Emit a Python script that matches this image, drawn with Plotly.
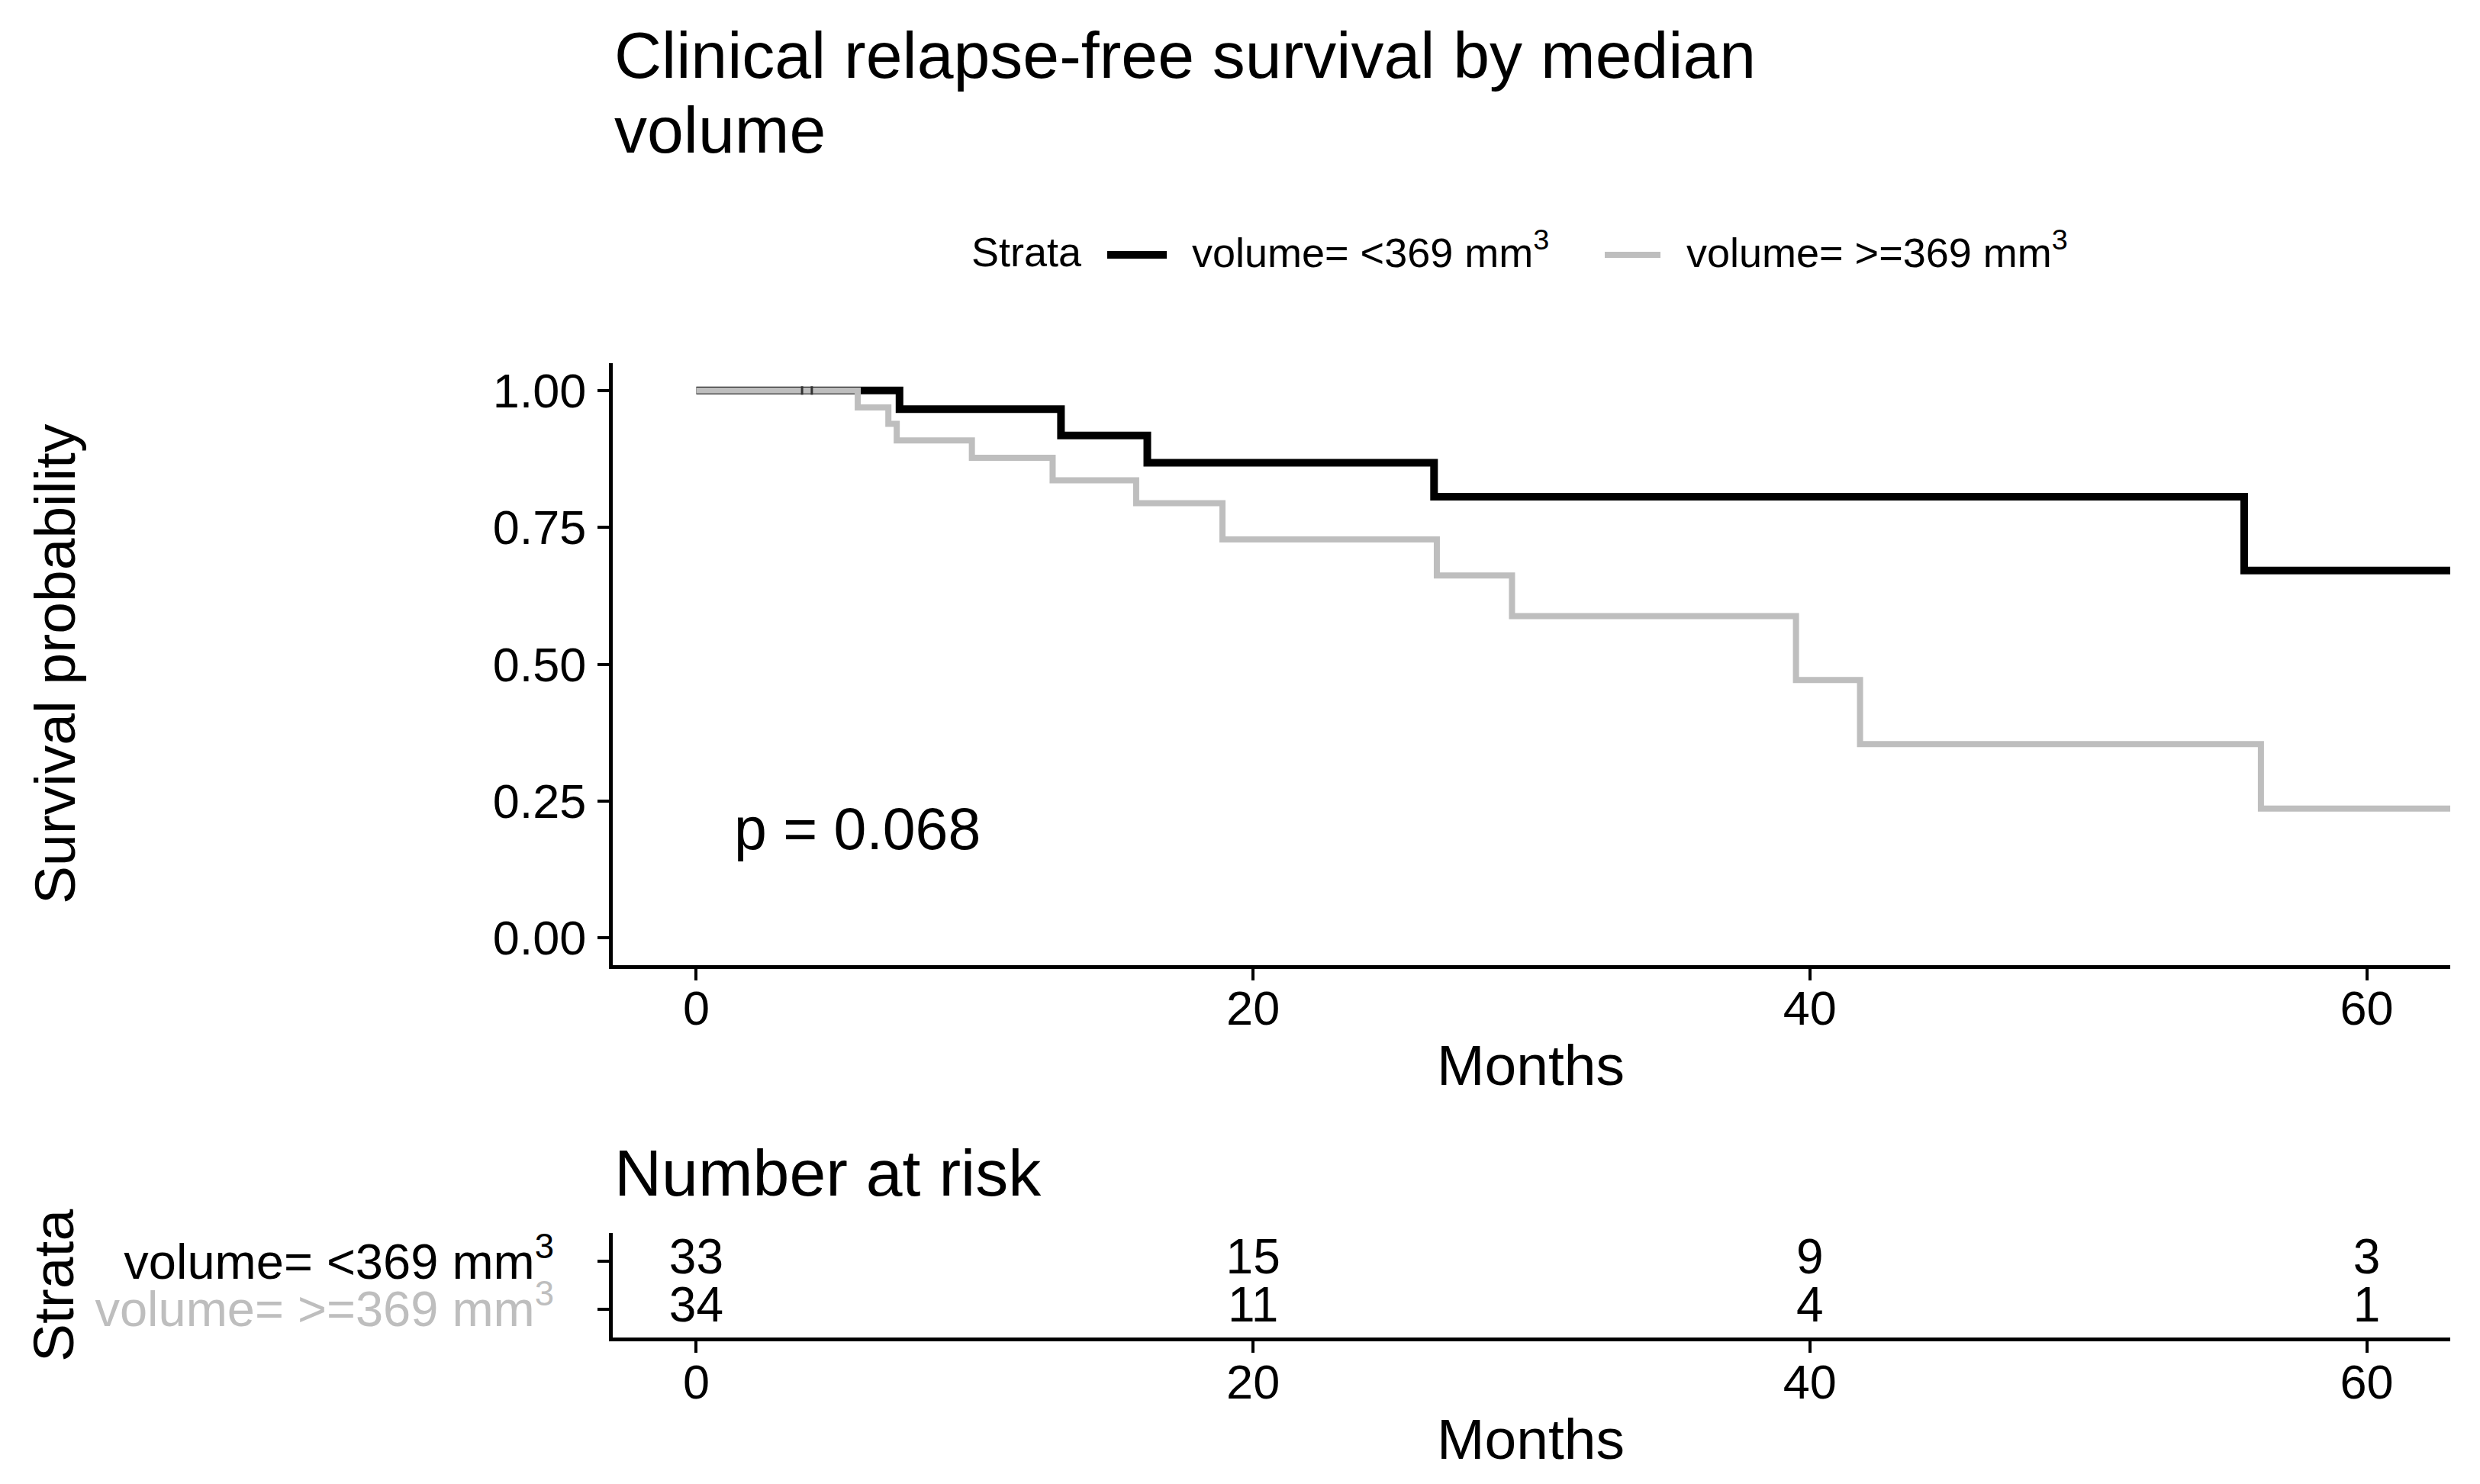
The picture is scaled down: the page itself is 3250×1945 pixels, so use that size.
import plotly.graph_objects as go

# ---------------- data ----------------
months_low = [0, 7.3, 13.1, 16.2, 26.5, 55.6, 63]
surv_low = [1.0, 0.966, 0.918, 0.868, 0.806, 0.671, 0.671]

months_high = [0, 5.8, 6.9, 7.2, 9.9, 12.8, 15.8, 18.9, 26.6, 29.3, 39.5, 41.8, 56.2, 63]
surv_high = [1.0, 0.969, 0.939, 0.909, 0.877, 0.836, 0.794, 0.728, 0.662, 0.588, 0.471, 0.354, 0.236, 0.236]

censor_months = [3.8, 4.15]
censor_surv = [1.0, 1.0]

risk_times = [0, 20, 40, 60]
risk_low = [33, 15, 9, 3]
risk_high = [34, 11, 4, 1]

x_ticks = [0, 20, 40, 60]
y_ticks = [0, 0.25, 0.5, 0.75, 1.0]
y_ticktext = ["0.00", "0.25", "0.50", "0.75", "1.00"]

strata_names = ["volume= &lt;369 mm<sup>3</sup>", "volume= &gt;=369 mm<sup>3</sup>"]
strata_colors = ["#000000", "#BEBEBE"]
p_text = "p = 0.068"
title_lines = ["Clinical relapse-free survival by median", "volume"]

# ---------------- layout helpers ----------------
W, H = 3250, 1945
FONT = "Liberation Sans, Arial, Helvetica, sans-serif"


def px(x):
    return x / W


def py(y):
    return 1 - y / H


x_dom = [px(795), px(3203)]
main_dom = [py(1257), py(468)]
risk_dom = [py(1745), py(1608)]

fig = go.Figure()

# survival curves
fig.add_trace(go.Scatter(x=months_low, y=surv_low, mode="lines",
                         line=dict(shape="hv", color=strata_colors[0], width=10),
                         name=strata_names[0], showlegend=False, xaxis="x", yaxis="y"))
fig.add_trace(go.Scatter(x=months_high, y=surv_high, mode="lines",
                         line=dict(shape="hv", color=strata_colors[1], width=8),
                         name=strata_names[1], showlegend=False, xaxis="x", yaxis="y"))
fig.add_trace(go.Scatter(x=censor_months, y=censor_surv, mode="markers",
                         marker=dict(symbol="line-ns", size=8, line=dict(width=3, color="#333333")),
                         showlegend=False, xaxis="x", yaxis="y"))

# risk table
fig.add_trace(go.Scatter(x=risk_times, y=[2] * len(risk_times), mode="text",
                         text=[str(v) for v in risk_low],
                         textfont=dict(size=64, color="black", family=FONT),
                         showlegend=False, xaxis="x2", yaxis="y2"))
fig.add_trace(go.Scatter(x=risk_times, y=[1] * len(risk_times), mode="text",
                         text=[str(v) for v in risk_high],
                         textfont=dict(size=64, color="black", family=FONT),
                         showlegend=False, xaxis="x2", yaxis="y2"))

axis_common = dict(showline=True, linecolor="black", linewidth=5, ticks="outside",
                   ticklen=15, tickwidth=4, tickcolor="black", showgrid=False,
                   zeroline=False, tickfont=dict(size=63, color="black", family=FONT))

fig.update_layout(
    width=W, height=H, autosize=False,
    margin=dict(l=0, r=0, t=0, b=0, autoexpand=False),
    paper_bgcolor="white", plot_bgcolor="white",
    font=dict(family=FONT, color="black"),
    showlegend=False,
    xaxis=dict(domain=x_dom, range=[-3, 63], tickvals=x_ticks, anchor="y",
               ticklabelstandoff=-18, **axis_common),
    yaxis=dict(domain=main_dom, range=[-0.05, 1.05], tickvals=y_ticks, ticktext=y_ticktext,
               anchor="x", ticklabelstandoff=2, **axis_common),
    xaxis2=dict(domain=x_dom, range=[-3, 63], tickvals=x_ticks, anchor="y2",
                ticklabelstandoff=-16, **axis_common),
    yaxis2=dict(domain=risk_dom, range=[0.4, 2.6], tickvals=[2, 1],
                ticktext=['<span style="color:%s">%s</span>' % (strata_colors[0], strata_names[0]),
                          '<span style="color:%s">%s</span>' % (strata_colors[1], strata_names[1])],
                anchor="x2", ticklabelstandoff=44, **axis_common),
)
fig.layout.yaxis2.tickfont.size = 65


def note(text, x, y, size, xanchor="center", yanchor="middle", angle=0, xref="paper", yref="paper"):
    return dict(text=text, x=x, y=y, xref=xref, yref=yref, xanchor=xanchor, yanchor=yanchor,
                textangle=angle, showarrow=False, font=dict(size=size, color="black", family=FONT))


ann = [
    # title (two lines)
    note(title_lines[0], px(795), py(64), 86, xanchor="left"),
    note(title_lines[1], px(795), py(162), 86, xanchor="left"),
    # axis titles
    note("Survival probability", px(64), py(862), 75, angle=-90),
    note("Months", px(1998), py(1388), 75),
    note("Strata", px(62), py(1677), 75, angle=-90),
    note("Months", px(1998), py(1878), 75),
    note("Number at risk", px(795), py(1529), 86, xanchor="left"),
    # p-value
    note(p_text, 1.3, 0.2, 77, xanchor="left", xref="x", yref="y"),
    # legend
    note("Strata", px(1263), py(322), 54, xanchor="left"),
    note(strata_names[0], px(1552), py(319), 54, xanchor="left"),
    note(strata_names[1], px(2200), py(319), 54, xanchor="left"),
]
fig.update_layout(annotations=ann)

shapes = [
    dict(type="line", xref="paper", yref="paper", x0=px(1443), x1=px(1521), y0=py(326), y1=py(326),
         line=dict(color=strata_colors[0], width=10)),
    dict(type="line", xref="paper", yref="paper", x0=px(2095), x1=px(2168), y0=py(326), y1=py(326),
         line=dict(color=strata_colors[1], width=8)),
]
fig.update_layout(shapes=shapes)

fig.write_html("out.html")
